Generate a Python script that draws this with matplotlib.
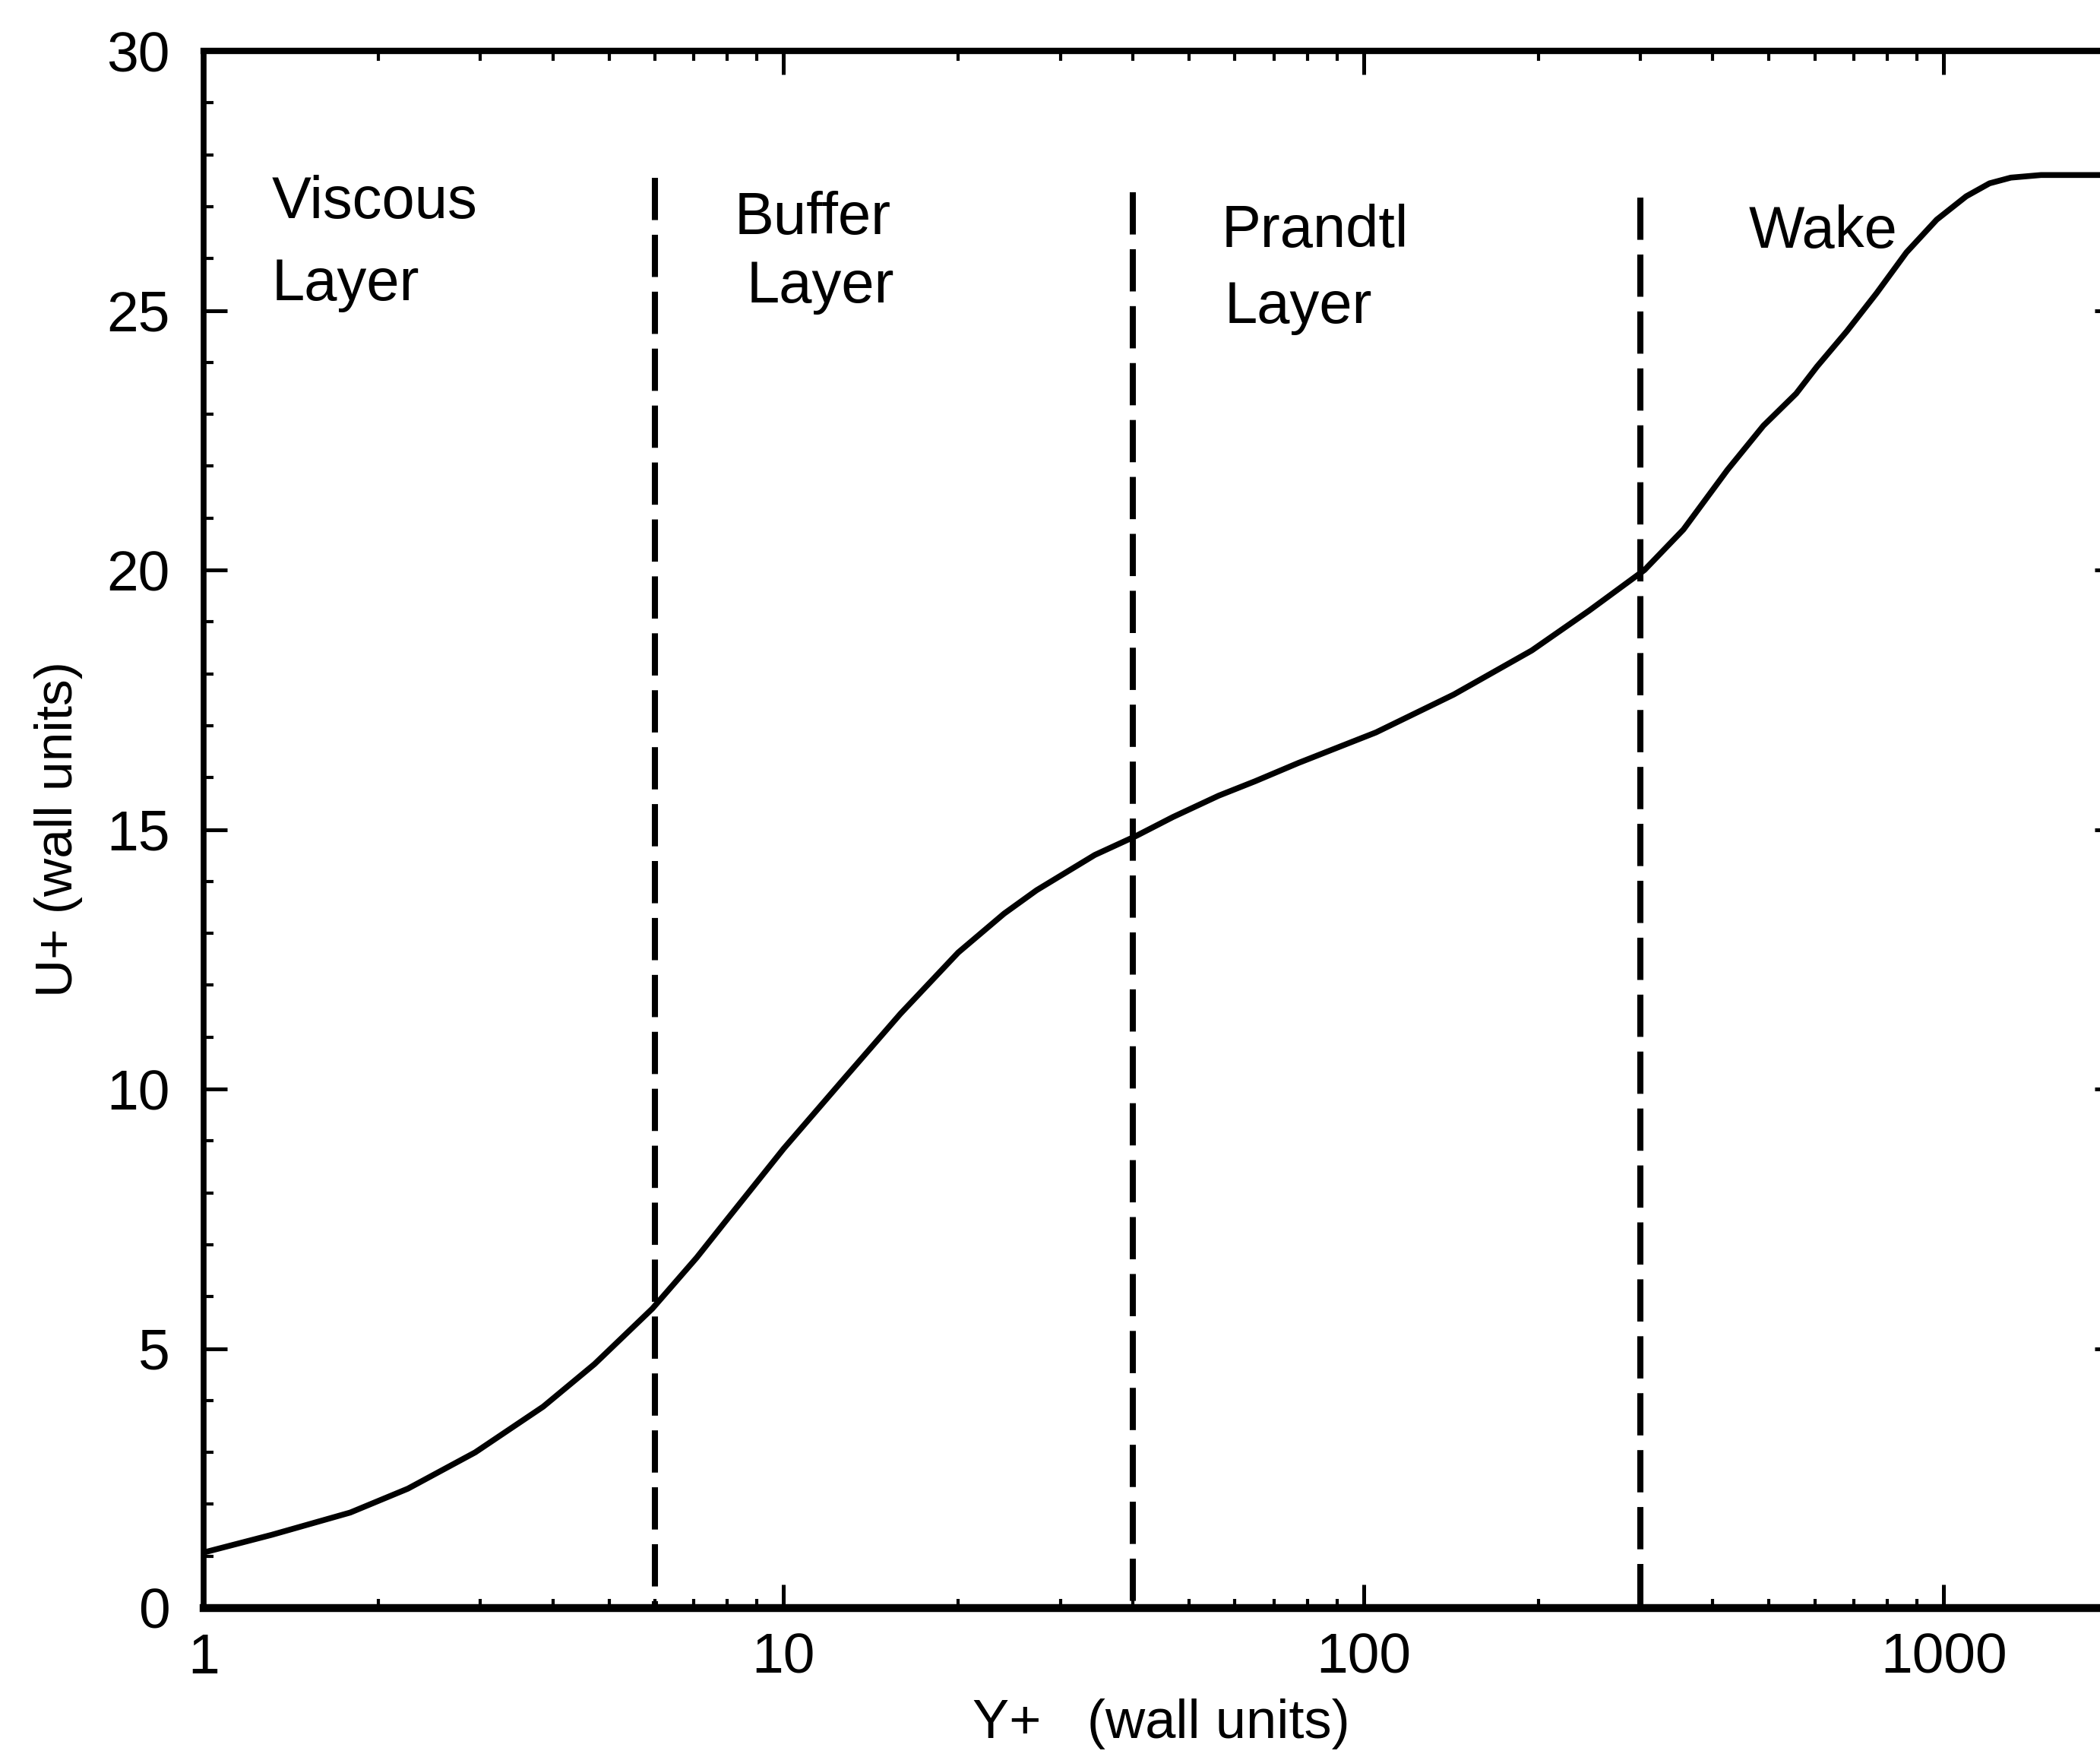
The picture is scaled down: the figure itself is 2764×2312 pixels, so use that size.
import matplotlib
matplotlib.use("Agg")
import matplotlib.pyplot as plt
from matplotlib.ticker import FixedLocator, NullFormatter, FixedFormatter

plt.rcParams['font.family'] = ['Liberation Sans', 'DejaVu Sans']

# Mean velocity profile of a turbulent boundary layer in wall units
y_plus = [1.0, 1.31, 1.79, 2.25, 2.94, 3.85, 4.72, 5.94, 7.08, 7.94,
          10.0, 12.6, 15.9, 20.0, 24.0, 27.3, 34.4, 40.6, 46.9, 56.2,
          65.0, 77.1, 105, 143, 195, 245, 305, 356, 424, 489,
          557, 605, 681, 766, 863, 973, 1094, 1200, 1306, 1472, 2000]
u_plus = [1.07, 1.41, 1.84, 2.30, 3.00, 3.88, 4.70, 5.77, 6.75, 7.45,
          8.85, 10.15, 11.45, 12.63, 13.38, 13.83, 14.51, 14.88, 15.24, 15.65,
          15.93, 16.28, 16.87, 17.60, 18.45, 19.22, 20.00, 20.78, 21.93, 22.78,
          23.40, 23.92, 24.60, 25.33, 26.12, 26.75, 27.20, 27.45, 27.56, 27.61, 27.61]

# Layer boundaries (y+) and the height of each dashed separator
boundaries = [6, 40, 300]
boundary_tops = [27.55, 27.28, 27.17]

# Region names: (first line, second line, x1, x2, baseline y of line 1, of line 2)
region_labels = [
    ("Viscous", "Layer", 1.31, 1.31, 26.78, 25.20),
    ("Buffer", "Layer", 8.23, 8.62, 26.47, 25.15),
    ("Prandtl", "Layer", 56.8, 57.5, 26.22, 24.76),
    ("Wake", "", 461, 461, 26.21, 26.21),
]

x_major = [1, 10, 100, 1000]
x_major_labels = ["1", "10", "100", "1000"]
y_major = [0, 5, 10, 15, 20, 25, 30]

fig = plt.figure(figsize=(27.64, 23.12), dpi=100)
ax = fig.add_axes([0.09696, 0.08478, 0.9117, 0.8862])

ax.set_xscale('log')
ax.set_xlim(1, 2000)
ax.set_ylim(0, 30)

ax.plot(y_plus, u_plus, color='black', lw=5.5, solid_joinstyle='round',
        solid_capstyle='round')

for xb, top in zip(boundaries, boundary_tops):
    ax.plot([xb, xb], [top, 0], color='black', lw=5.8,
            linestyle=(0, (6.9, 2.4)), dash_capstyle='butt')

for l1, l2, x1, x2, b1, b2 in region_labels:
    ax.text(x1, b1, l1, fontsize=56, va='baseline', ha='left')
    if l2:
        ax.text(x2, b2, l2, fontsize=56, va='baseline', ha='left')

# ticks on all four sides, pointing inward
ax.xaxis.set_major_locator(FixedLocator(x_major))
ax.xaxis.set_major_formatter(FixedFormatter(x_major_labels))
minor_x = [m * 10 ** d for d in range(4) for m in range(2, 10) if m * 10 ** d < 2000]
ax.xaxis.set_minor_locator(FixedLocator(minor_x))
ax.xaxis.set_minor_formatter(NullFormatter())
ax.yaxis.set_major_locator(FixedLocator(y_major))
ax.yaxis.set_minor_locator(FixedLocator(list(range(0, 31))))

ax.tick_params(which='both', direction='in', top=True, right=True, color='black')
ax.tick_params(which='major', length=22, width=3.6, labelsize=54)
ax.tick_params(which='minor', length=9, width=3.0)
ax.tick_params(axis='x', which='major', pad=23)
ax.tick_params(axis='y', which='major', pad=32)

ax.spines['bottom'].set_linewidth(7.5)
ax.spines['top'].set_linewidth(6)
ax.spines['left'].set_linewidth(5.5)
ax.spines['right'].set_linewidth(5.5)

ax.set_xlabel("Y+   (wall units)", fontsize=52)
ax.set_ylabel("U+ (wall units)", fontsize=50)
ax.xaxis.set_label_coords(0.5, -0.058)
ax.yaxis.set_label_coords(-0.063, 0.5)

fig.savefig("out.png", dpi=100, facecolor='white')
